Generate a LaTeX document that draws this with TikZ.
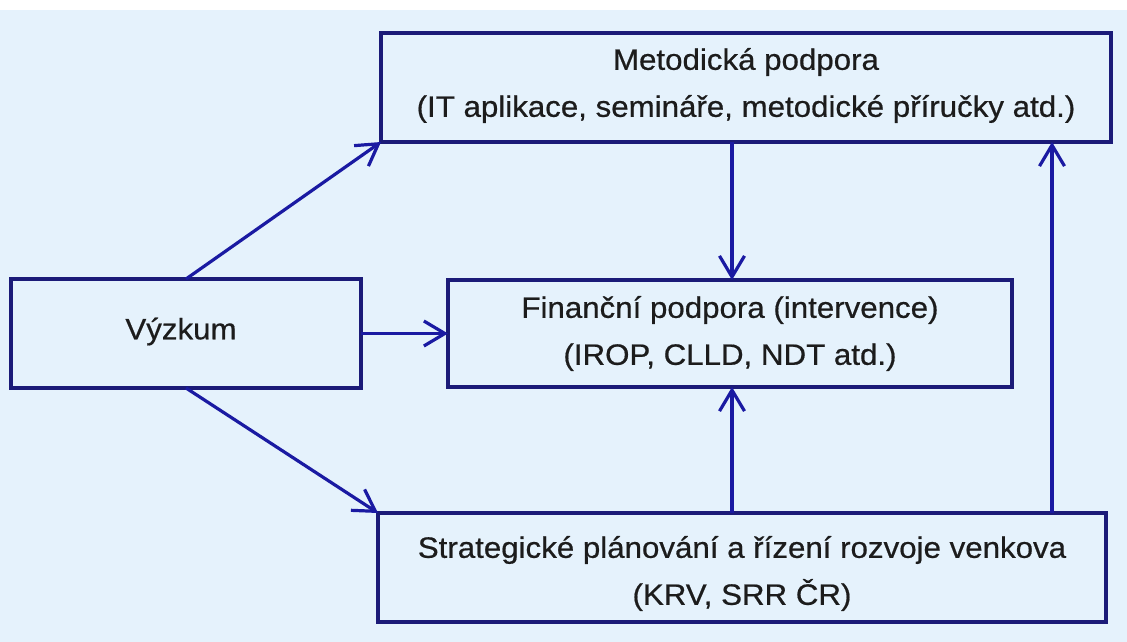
\documentclass[tikz,border=0pt]{standalone}
\usepackage{fontspec}
\setmainfont[FakeStretch=1.06,FakeBold=0.6]{Liberation Sans}
\usetikzlibrary{arrows.meta,calc}
\definecolor{bgblue}{HTML}{E5F2FC}
\definecolor{boxline}{HTML}{1B1B78}
\definecolor{arrblue}{HTML}{1A1AA2}
\definecolor{txt}{HTML}{1C1C1C}
\tikzset{
  box/.style={draw=boxline, line width=3.6pt, fill=bgblue, inner sep=0pt, outer sep=0pt},
  lbl/.style={align=center, text=txt, inner sep=0pt, font=\fontsize{29.5}{47}\selectfont},
  arr/.style={draw=arrblue, line width=3.2pt,
    -{Straight Barb[length=21pt,width=25pt,line width=3.2pt]}}
}
\begin{document}
\begin{tikzpicture}[x=1pt,y=-1pt]
\useasboundingbox (0,0) rectangle (1127,642);
\fill[white] (0,0) rectangle (1127,642);
\fill[bgblue] (0,10) rectangle (1127,642);
\node[box, minimum width=730pt, minimum height=109pt] (met) at (746,87.5) {};
\node[box, minimum width=350pt, minimum height=109pt] (vyz) at (186,333.5) {};
\node[box, minimum width=564pt, minimum height=107pt] (fin) at (730,333.5) {};
\node[box, minimum width=728pt, minimum height=109pt] (str) at (742,567.5) {};
\node[lbl] (metl) at ($(met.center)+(0,-2)$)
  {Metodická podpora\\(IT aplikace, semináře, metodické příručky atd.)};
\node[lbl] (vyzl) at ($(vyz.center)+(-5,-2)$) {Výzkum};
\node[lbl] (finl) at ($(fin.center)+(0,0)$)
  {Finanční podpora (intervence)\\(IROP, CLLD, NDT atd.)};
\node[lbl] (strl) at ($(str.center)+(0,6)$)
  {Strategické plánování a řízení rozvoje venkova\\(KRV, SRR ČR)};
\coordinate (xa) at (732,0);
\coordinate (xb) at (1052,0);
\draw[arr] (vyz.north) -- (met.south west);
\draw[arr] (vyz.east) -- (fin.west);
\draw[arr] (vyz.south) -- (str.north west);
\draw[arr] (met.south -| xa) -- (fin.north -| xa);
\draw[arr] (str.north -| xa) -- (fin.south -| xa);
\draw[arr] (str.north -| xb) -- (met.south -| xb);
\end{tikzpicture}
\end{document}
